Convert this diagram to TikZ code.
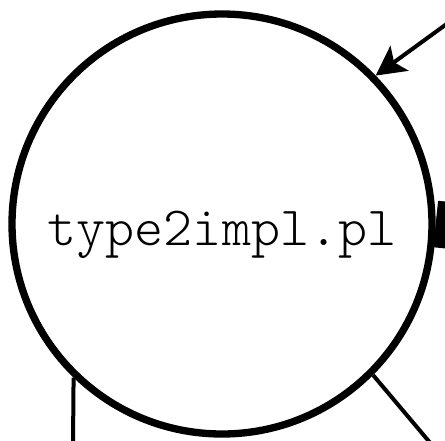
\documentclass[tikz,border=0pt]{standalone}
\usepackage{fontspec}
\setmonofont{Latin Modern Mono Light}
\usetikzlibrary{arrows.meta,positioning}
\tikzset{
	%Define standard arrow tip
	>={Stealth[length=22pt,width=23pt,inset=5pt]},
	%Define style for the script circle
	scriptNode/.style={
		circle,
		draw=black, line width=5.5pt,
		minimum size=315pt,
		inner sep=0pt,
		text height=34pt, text depth=2pt,
		font=\fontsize{41.5}{44}\selectfont\ttfamily},
	% Define arrow style
	edgeStyle/.style={
		line width=3pt}
}
\begin{document}
\begin{tikzpicture}[x=0.75pt,y=-0.75pt]
	\useasboundingbox (0,0) rectangle (445,440);
	
	%nodes
	\node[scriptNode] (type2impl) at (222,224) {type2impl.pl};
	
	%loose ends
	\coordinate (inTop) at (448,23);
	\coordinate (outRight) at (450,225.5);
	\coordinate (outLeft) at (73,445);
	\coordinate (outDown) at (432,445);
	
	%edges
	\draw[edgeStyle, ->] (inTop) -- (type2impl.44);
	\draw[line width=35pt] (type2impl.east) -- (outRight);
	\draw[edgeStyle] (type2impl.-134) -- (outLeft);
	\draw[edgeStyle] (type2impl.-45.4) -- (outDown);
	
\end{tikzpicture}
\end{document}
